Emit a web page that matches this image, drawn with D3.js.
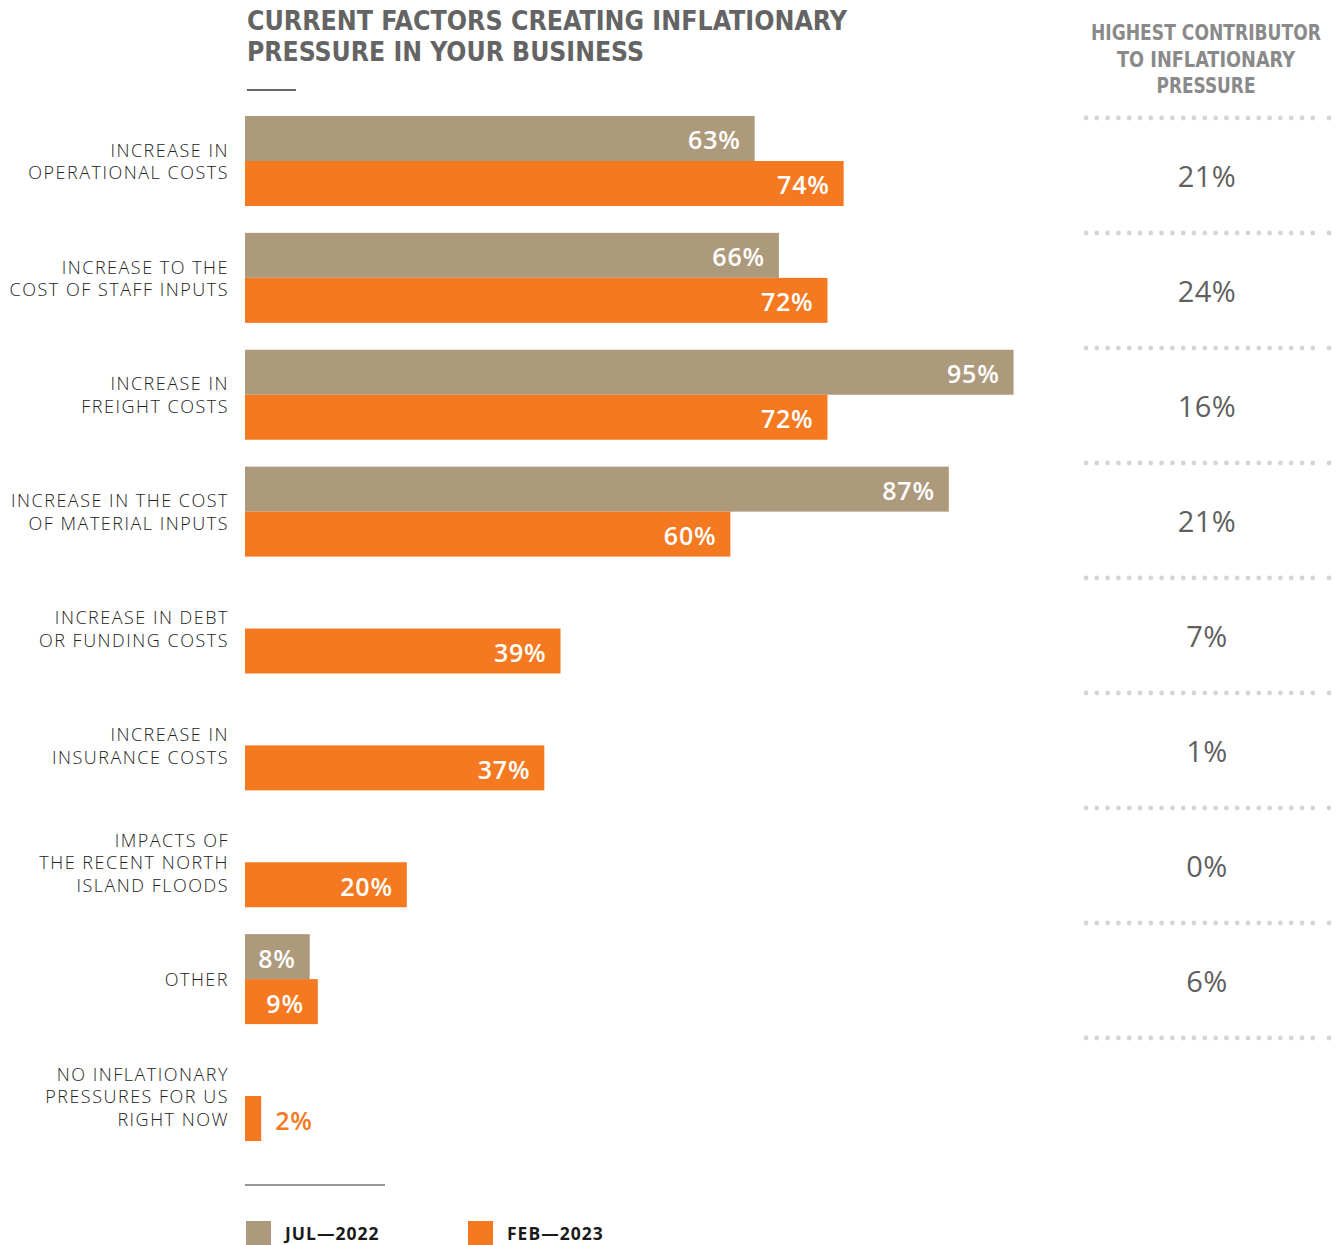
<!DOCTYPE html>
<html>
<head>
<meta charset="utf-8">
<script src="https://cdn.jsdelivr.net/npm/d3@7"></script>
<style>
  html, body { margin: 0; padding: 0; background: #fff; }
  svg { display: block; }
</style>
</head>
<body>
<svg id="chart" width="1339" height="1245"></svg>
<script>
// Survey factors (each label split into its printed lines)
const categories = [
  ["INCREASE IN", "OPERATIONAL COSTS"],
  ["INCREASE TO THE", "COST OF STAFF INPUTS"],
  ["INCREASE IN", "FREIGHT COSTS"],
  ["INCREASE IN THE COST", "OF MATERIAL INPUTS"],
  ["INCREASE IN DEBT", "OR FUNDING COSTS"],
  ["INCREASE IN", "INSURANCE COSTS"],
  ["IMPACTS OF", "THE RECENT NORTH", "ISLAND FLOODS"],
  ["OTHER"],
  ["NO INFLATIONARY", "PRESSURES FOR US", "RIGHT NOW"]
];

// Share of businesses citing each factor (%), null where not asked
const jul2022 = [63, 66, 95, 87, null, null, null, 8, null];
const feb2023 = [74, 72, 72, 60, 39, 37, 20, 9, 2];

// Highest single contributor (%), one per factor except the last
const highestContributor = [21, 24, 16, 21, 7, 1, 0, 6];

const seriesNames = ["JUL\u20142022", "FEB\u20142023"];
const titleLines = ["CURRENT FACTORS CREATING INFLATIONARY", "PRESSURE IN YOUR BUSINESS"];
const sideTitleLines = ["HIGHEST CONTRIBUTOR", "TO INFLATIONARY", "PRESSURE"];

const colors = { jul: "#ad9a7c", feb: "#f47920" };
const condensed = "'Liberation Sans Narrow', 'DejaVu Sans Condensed', 'Liberation Sans', sans-serif";
const bodyFont = "'Open Sans', 'Noto Sans', sans-serif";

const svg = d3.select("#chart");

// ---- Title ----
const titleWidths = [600, 397];
svg.append("g").selectAll("text")
  .data(titleLines)
  .join("text")
  .attr("x", 247)
  .attr("y", (d, i) => 30 + i * 31)
  .attr("textLength", (d, i) => titleWidths[i])
  .attr("lengthAdjust", "spacingAndGlyphs")
  .attr("font-family", condensed)
  .attr("font-weight", 700)
  .attr("font-size", 27)
  .attr("fill", "#646464")
  .text(d => d);

svg.append("line")
  .attr("x1", 247).attr("x2", 296)
  .attr("y1", 90).attr("y2", 90)
  .attr("stroke", "#333").attr("stroke-width", 1.5);

// ---- Scales ----
const x = d3.scaleLinear().domain([0, 100]).range([245, 1054]);
const y = d3.scaleBand()
  .domain(d3.range(categories.length))
  .range([116, 1141])
  .paddingInner(0.23)
  .paddingOuter(0);
const half = y.bandwidth() / 2;

// ---- Category labels ----
const lineH = 22.5;
const labelG = svg.append("g");
categories.forEach((lines, i) => {
  const cy = y(i) + y.bandwidth() / 2;
  const t = labelG.append("text")
    .attr("x", 228)
    .attr("text-anchor", "end")
    .attr("font-family", bodyFont)
    .attr("font-weight", 300)
    .attr("font-size", 18)
    .attr("letter-spacing", 1.5)
    .attr("fill", "#222");
  lines.forEach((ln, j) => {
    t.append("tspan")
      .attr("x", 229)
      .attr("y", cy + (j - (lines.length - 1) / 2) * lineH + 7)
      .text(ln);
  });
});

// ---- Bars ----
const bars = [];
categories.forEach((c, i) => {
  if (jul2022[i] != null) bars.push({ i, v: jul2022[i], slot: 0, color: colors.jul });
  if (feb2023[i] != null) bars.push({ i, v: feb2023[i], slot: 1, color: colors.feb });
});

const barG = svg.append("g");
barG.selectAll("rect")
  .data(bars)
  .join("rect")
  .attr("x", x(0))
  .attr("y", d => y(d.i) + d.slot * half)
  .attr("width", d => x(d.v) - x(0))
  .attr("height", half)
  .attr("fill", d => d.color);

barG.selectAll("text")
  .data(bars)
  .join("text")
  .each(function (d) {
    const inside = x(d.v) - x(0) > 50;
    d3.select(this)
      .attr("x", inside ? x(d.v) - 14 : x(d.v) + 14)
      .attr("text-anchor", inside ? "end" : "start")
      .attr("fill", inside ? "#fff" : d.color);
  })
  .attr("y", d => y(d.i) + d.slot * half + half / 2 + 11)
  .attr("font-family", bodyFont)
  .attr("font-weight", 600)
  .attr("font-size", 25)
  .attr("letter-spacing", 0.8)
  .text(d => d.v + "%");

// ---- Side column: highest contributor ----
const side = d3.scaleBand()
  .domain(d3.range(highestContributor.length))
  .range([118, 1038]);

svg.append("g").selectAll("text")
  .data(sideTitleLines)
  .join("text")
  .attr("x", 1206)
  .attr("y", (d, i) => 40 + i * 26.5)
  .attr("text-anchor", "middle")
  .attr("textLength", (d, i) => [230, 178, 99][i])
  .attr("lengthAdjust", "spacingAndGlyphs")
  .attr("font-family", condensed)
  .attr("font-weight", 700)
  .attr("font-size", 20.5)
  .attr("fill", "#8a8a8a")
  .text(d => d);

const dotRows = d3.range(highestContributor.length + 1)
  .map(k => k < highestContributor.length ? side(k) : side.range()[1]);
const dotXs = d3.range(22).map(k => 1086 + k * 10.8).concat([1329]);
const dotG = svg.append("g").attr("fill", "#d5d5d5");
dotRows.forEach(ry => {
  dotG.selectAll(null)
    .data(dotXs)
    .join("circle")
    .attr("cx", d => d)
    .attr("cy", ry)
    .attr("r", 2.4);
});

svg.append("g").selectAll("text")
  .data(highestContributor)
  .join("text")
  .attr("x", 1207)
  .attr("y", (d, i) => side(i) + side.bandwidth() / 2 + 11)
  .attr("text-anchor", "middle")
  .attr("font-family", bodyFont)
  .attr("font-weight", 400)
  .attr("font-size", 29)
  .attr("letter-spacing", 0.5)
  .attr("fill", "#5f5f5f")
  .text(d => d + "%");

// ---- Legend ----
svg.append("line")
  .attr("x1", 245).attr("x2", 385)
  .attr("y1", 1185).attr("y2", 1185)
  .attr("stroke", "#333").attr("stroke-width", 1.2);

const legend = svg.append("g").selectAll("g")
  .data(seriesNames)
  .join("g")
  .attr("transform", (d, i) => `translate(${246 + i * 222},1221)`);
legend.append("rect")
  .attr("width", 25).attr("height", 24)
  .attr("fill", (d, i) => i === 0 ? colors.jul : colors.feb);
legend.append("text")
  .attr("x", 39).attr("y", 19)
  .attr("font-family", bodyFont)
  .attr("font-weight", 700)
  .attr("font-size", 17.5)
  .attr("letter-spacing", 1)
  .attr("fill", "#1a1a1a")
  .text(d => d);
</script>
</body>
</html>
